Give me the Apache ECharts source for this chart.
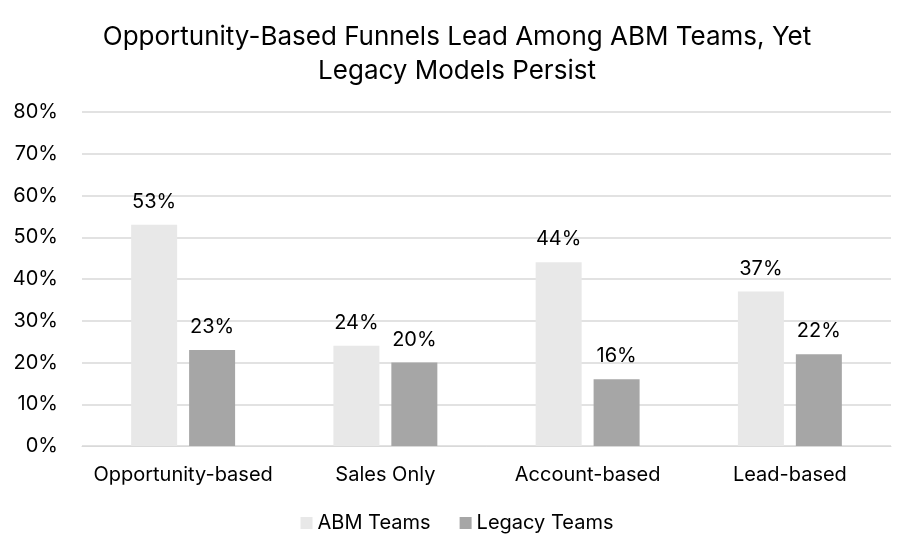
<!DOCTYPE html>
<html><head><meta charset="utf-8">
<script src="https://cdn.jsdelivr.net/npm/echarts@6/dist/echarts.min.js"></script>
<style>html,body{margin:0;padding:0;background:#fff}#c{width:914px;height:556px}</style>
</head><body><div id="c"></div>
<script>
const categories = ["Opportunity-based", "Sales Only", "Account-based", "Lead-based"];
const abmTeams = [53, 24, 44, 37];
const legacyTeams = [23, 20, 16, 22];
const yTicks = [0, 10, 20, 30, 40, 50, 60, 70, 80];
const titleText = "Opportunity-Based Funnels Lead Among ABM Teams, Yet\nLegacy Models Persist";
const FONT = "Inter";
const chart = echarts.init(document.getElementById('c'));
const lbl = {show:true, position:'top', distance:13, color:'#000', fontSize:20, fontFamily:FONT, formatter: p => p.value + '%'};
chart.setOption({
  animation:false,
  title:{text:titleText, left:'center', top:15, textStyle:{fontFamily:FONT, fontSize:26, fontWeight:'normal', color:'#000', lineHeight:34}},
  legend:{bottom:18, left:'center', itemWidth:12, itemHeight:12, itemGap:29, icon:'rect',
    textStyle:{fontFamily:FONT, fontSize:20, color:'#000'}, data:['ABM Teams','Legacy Teams']},
  grid:{left:82, right:23, top:112, bottom:110, containLabel:false},
  xAxis:{type:'category', data:categories, axisTick:{show:false},
    axisLine:{lineStyle:{color:'#d9d9d9', width:1}},
    axisLabel:{color:'#000', fontSize:20, fontFamily:FONT, margin:19, interval:0}},
  yAxis:{type:'value', min:0, max:80, interval:10,
    axisLabel:{color:'#000', fontSize:20, fontFamily:FONT, formatter: v => yTicks.includes(v) ? v + '%' : '', margin:24},
    splitLine:{lineStyle:{color:'#d9d9d9', width:1.5}}, axisLine:{show:false}, axisTick:{show:false}},
  series:[
    {name:'ABM Teams', type:'bar', data:abmTeams, barWidth:46, barGap:'26%', itemStyle:{color:'#e8e8e8'}, label:lbl},
    {name:'Legacy Teams', type:'bar', data:legacyTeams, barWidth:46, itemStyle:{color:'#a6a6a6'}, label:lbl}
  ]
});
</script></body></html>
